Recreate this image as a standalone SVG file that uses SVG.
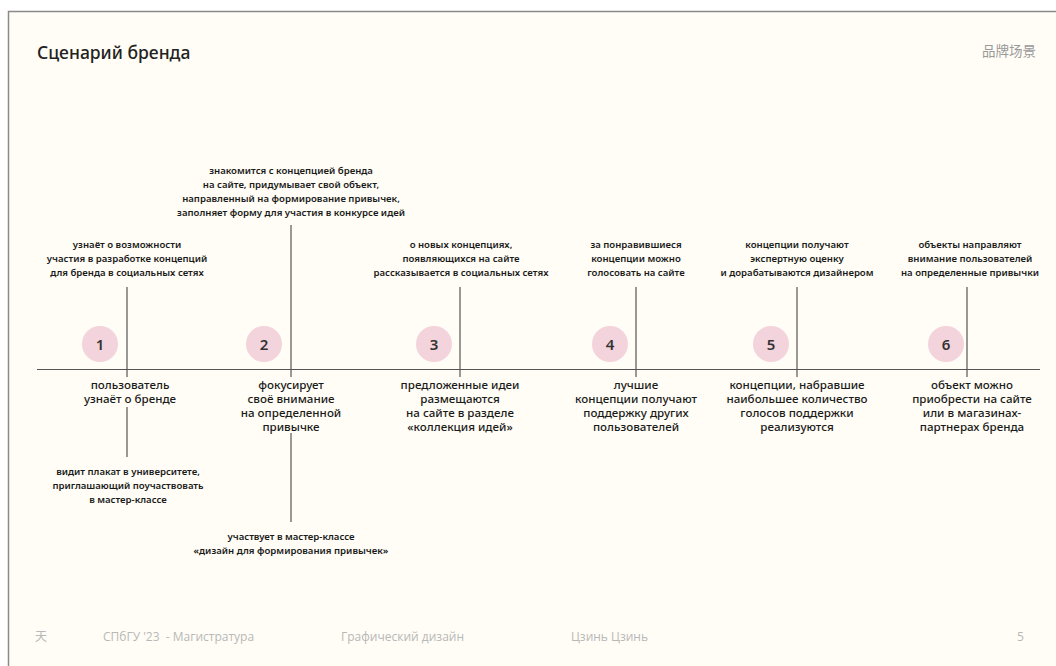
<svg xmlns="http://www.w3.org/2000/svg" width="1056" height="666" viewBox="0 0 1056 666">
<style>
.bg{fill:#fffdf5}
.ln{stroke:#555;stroke-width:1.2;fill:none}
.dot{fill:#f3d3dc}
.num{font-family:"Noto Sans","Open Sans",sans-serif;font-size:15px;fill:#333;text-anchor:middle;font-weight:600}
.sm{font-family:"Noto Sans","Open Sans",sans-serif;font-size:9.6px;fill:#1a1a1a;text-anchor:middle;font-weight:600}
.md{font-family:"Noto Sans","Open Sans",sans-serif;font-size:11.6px;fill:#1a1a1a;text-anchor:middle;font-weight:500}
.ft{font-family:"Open Sans","Noto Sans","Noto Sans CJK SC",sans-serif;font-size:12px;fill:#b8b8b8}
</style>
<rect x="0" y="0" width="1056" height="666" fill="#ffffff"/>
<rect class="bg" x="8.5" y="11.5" width="1050" height="660" stroke="#8a8a8a" stroke-width="1.5"/>
<text x="37" y="59" font-family="Noto Sans,Open Sans,sans-serif" font-size="17.5" font-weight="500" fill="#222">Сценарий бренда</text>
<text x="1036" y="56" font-family="Noto Sans CJK SC,sans-serif" font-size="13.5" fill="#999" text-anchor="end">品牌场景</text>

<g id="connectors">
<line class="ln" x1="37" y1="369.5" x2="1040" y2="369.5"/>
<line class="ln" x1="127" y1="287" x2="127" y2="377"/>
<line class="ln" x1="127" y1="407" x2="127" y2="457"/>
<line class="ln" x1="291" y1="225" x2="291" y2="377"/>
<line class="ln" x1="291" y1="433" x2="291" y2="522"/>
<line class="ln" x1="460" y1="287" x2="460" y2="377"/>
<line class="ln" x1="636" y1="287" x2="636" y2="377"/>
<line class="ln" x1="797" y1="287" x2="797" y2="377"/>
<line class="ln" x1="967" y1="287" x2="967" y2="377"/>
</g>

<g id="step1">
<circle class="dot" cx="100" cy="344" r="18"/>
<text class="num" x="100" y="349.5">1</text>
<text class="sm" x="127" y="248"><tspan x="127">узнаёт о возможности</tspan><tspan x="127" dy="14">участия в разработке концепций</tspan><tspan x="127" dy="14">для бренда в социальных сетях</tspan></text>
<text class="md" x="130" y="389"><tspan x="130">пользователь</tspan><tspan x="130" dy="14">узнаёт о бренде</tspan></text>
<text class="sm" x="128" y="475"><tspan x="128">видит плакат в университете,</tspan><tspan x="128" dy="14">приглашающий поучаствовать</tspan><tspan x="128" dy="14">в мастер-классе</tspan></text>
</g>

<g id="step2">
<circle class="dot" cx="264" cy="344" r="18"/>
<text class="num" x="264" y="349.5">2</text>
<text class="sm" x="291" y="174"><tspan x="291">знакомится с концепцией бренда</tspan><tspan x="291" dy="14">на сайте, придумывает свой объект,</tspan><tspan x="291" dy="14">направленный на формирование привычек,</tspan><tspan x="291" dy="14">заполняет форму для участия в конкурсе идей</tspan></text>
<text class="md" x="291" y="389"><tspan x="291">фокусирует</tspan><tspan x="291" dy="14">своё внимание</tspan><tspan x="291" dy="14">на определенной</tspan><tspan x="291" dy="14">привычке</tspan></text>
<text class="sm" x="291" y="540"><tspan x="291">участвует в мастер-классе</tspan><tspan x="291" dy="14">«дизайн для формирования привычек»</tspan></text>
</g>

<g id="step3">
<circle class="dot" cx="434" cy="344" r="18"/>
<text class="num" x="434" y="349.5">3</text>
<text class="sm" x="461" y="248"><tspan x="461">о новых концепциях,</tspan><tspan x="461" dy="14">появляющихся на сайте</tspan><tspan x="461" dy="14">рассказывается в социальных сетях</tspan></text>
<text class="md" x="460" y="389"><tspan x="460">предложенные идеи</tspan><tspan x="460" dy="14">размещаются</tspan><tspan x="460" dy="14">на сайте в разделе</tspan><tspan x="460" dy="14">«коллекция идей»</tspan></text>
</g>

<g id="step4">
<circle class="dot" cx="610" cy="344" r="18"/>
<text class="num" x="610" y="349.5">4</text>
<text class="sm" x="636" y="248"><tspan x="636">за понравившиеся</tspan><tspan x="636" dy="14">концепции можно</tspan><tspan x="636" dy="14">голосовать на сайте</tspan></text>
<text class="md" x="636" y="389"><tspan x="636">лучшие</tspan><tspan x="636" dy="14">концепции получают</tspan><tspan x="636" dy="14">поддержку других</tspan><tspan x="636" dy="14">пользователей</tspan></text>
</g>

<g id="step5">
<circle class="dot" cx="771" cy="344" r="18"/>
<text class="num" x="771" y="349.5">5</text>
<text class="sm" x="797" y="248"><tspan x="797">концепции получают</tspan><tspan x="797" dy="14">экспертную оценку</tspan><tspan x="797" dy="14">и дорабатываются дизайнером</tspan></text>
<text class="md" x="797" y="389"><tspan x="797">концепции, набравшие</tspan><tspan x="797" dy="14">наибольшее количество</tspan><tspan x="797" dy="14">голосов поддержки</tspan><tspan x="797" dy="14">реализуются</tspan></text>
</g>

<g id="step6">
<circle class="dot" cx="946" cy="344" r="18"/>
<text class="num" x="946" y="349.5">6</text>
<text class="sm" x="970" y="248"><tspan x="970">объекты направляют</tspan><tspan x="970" dy="14">внимание пользователей</tspan><tspan x="970" dy="14">на определенные привычки</tspan></text>
<text class="md" x="972" y="389"><tspan x="972">объект можно</tspan><tspan x="972" dy="14">приобрести на сайте</tspan><tspan x="972" dy="14">или в магазинах-</tspan><tspan x="972" dy="14">партнерах бренда</tspan></text>
</g>

<g id="footer">
<text class="ft" x="35" y="641" font-family="Noto Sans CJK SC,sans-serif">天</text>
<text class="ft" x="103" y="641" xml:space="preserve">СПбГУ '23  - Магистратура</text>
<text class="ft" x="341" y="641">Графический дизайн</text>
<text class="ft" x="571" y="641">Цзинь Цзинь</text>
<text class="ft" x="1017" y="641">5</text>
</g>
</svg>
